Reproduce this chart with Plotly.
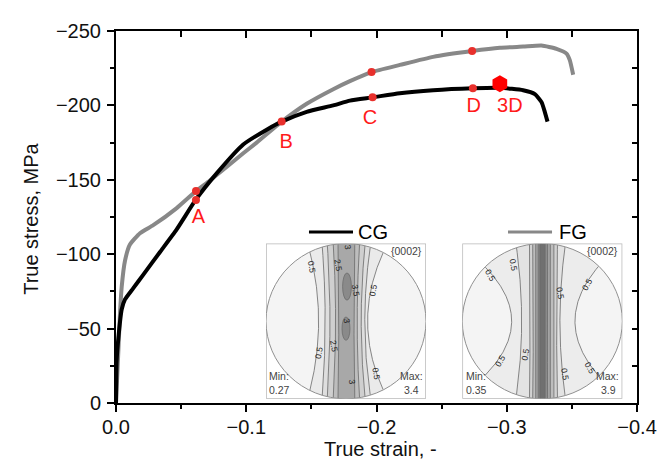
import numpy as np
import plotly.graph_objects as go

FONT = "Liberation Sans, Arial, Helvetica, sans-serif"

# ---------------- data ----------------
cg_strain = [0.0, -0.0005, -0.0018, -0.0044, -0.0069, -0.0133, -0.0210, -0.0338, -0.0466, -0.0614,
             -0.0773, -0.0977, -0.1157, -0.1272, -0.1464, -0.1668, -0.1796, -0.1970, -0.2179,
             -0.2435, -0.2740, -0.2947, -0.3126, -0.3216, -0.3267, -0.3292, -0.3313]
cg_stress = [0.0, -28.2, -43.4, -63.0, -69.6, -77.2, -86.3, -101.5, -116.7, -136.8,
             -154.3, -173.7, -183.7, -189.1, -195.7, -200.0, -203.2, -205.4, -208.2,
             -210.2, -211.5, -211.8, -210.2, -207.6, -202.2, -195.7, -189.1]

fg_strain = [0.0, -0.0008, -0.0018, -0.0031, -0.0044, -0.0069, -0.0107, -0.0184, -0.0286, -0.0466,
             -0.0614, -0.0721, -0.0977, -0.1080, -0.1272, -0.1464, -0.1668, -0.1796, -0.1962,
             -0.2180, -0.2435, -0.2734, -0.2947, -0.3126, -0.3267, -0.3382, -0.3459, -0.3484, -0.3510]
fg_stress = [0.0, -15.2, -34.8, -60.8, -78.3, -95.6, -106.5, -114.1, -119.5, -131.0,
             -142.4, -149.5, -167.8, -175.0, -189.1, -201.1, -210.9, -216.3, -222.4,
             -227.2, -232.6, -236.5, -238.7, -239.5, -240.2, -238.0, -234.8, -230.4, -220.6]

dot_strain = [-0.0614, -0.0614, -0.1272, -0.1962, -0.1970, -0.2734, -0.2740]
dot_stress = [-142.4, -136.5, -189.1, -222.4, -205.4, -236.5, -211.5]

hex_strain = [-0.2947]
hex_stress = [-214.6]

point_labels = ["A", "B", "C", "D", "3D"]
label_strain = [-0.0632, -0.1307, -0.1949, -0.2747, -0.3024]
label_stress = [-124.4, -174.5, -191.0, -198.7, -198.8]

x_range = [0, -0.4]
y_range = [0, -250]

series_names = ["CG", "FG"]
pole_title = "{0002}"
cg_min, cg_max = "0.27", "3.4"
fg_min, fg_max = "0.35", "3.9"

# pole-figure contour geometry (left mid, left edge, right mid, right edge), outer -> inner
cg_levels = [(-0.342, -0.48, 0.27, 0.52), (-0.26, -0.30, 0.235, 0.31), (-0.20, -0.235, 0.19, 0.24),
             (-0.13, -0.16, 0.14, 0.17), (-0.09, -0.10, 0.10, 0.11)]
cg_colors = ["#eaeaea", "#dedede", "#cfcfcf", "#bdbdbd", "#a8a8a8"]
fg_levels = [(-0.383, -1.065, 0.408, 1.0), (-0.258, -0.33, 0.22, 0.29), (-0.154, -0.16, 0.179, 0.19),
             (-0.113, -0.12, 0.138, 0.145), (-0.079, -0.082, 0.096, 0.10), (-0.05, -0.052, 0.063, 0.066),
             (-0.029, -0.03, 0.033, 0.035)]
fg_colors = ["#ececec", "#e3e3e3", "#d2d2d2", "#bdbdbd", "#a5a5a5", "#8c8c8c", "#707070"]

fig = go.Figure()

# ---------------- main curves ----------------
fig.add_trace(go.Scatter(x=fg_strain, y=fg_stress, mode="lines", name="FG",
                         line=dict(color="#888888", width=4, shape="spline", smoothing=0.5),
                         showlegend=False))
fig.add_trace(go.Scatter(x=cg_strain, y=cg_stress, mode="lines", name="CG",
                         line=dict(color="black", width=4, shape="spline", smoothing=0.5),
                         showlegend=False))
fig.add_trace(go.Scatter(x=dot_strain, y=dot_stress, mode="markers",
                         marker=dict(color="#e8302c", size=8), showlegend=False))
fig.add_trace(go.Scatter(x=hex_strain, y=hex_stress, mode="markers",
                         marker=dict(color="#ff0000", size=17, symbol="hexagon"), showlegend=False))
fig.add_trace(go.Scatter(x=label_strain, y=label_stress, mode="text", text=point_labels,
                         textfont=dict(color="#ff1a1a", size=20, family=FONT), showlegend=False))
# dummy trace for mirrored axes
fig.add_trace(go.Scatter(x=[None], y=[None], xaxis="x2", yaxis="y2", showlegend=False))

# ---------------- pole figures ----------------
ys = np.linspace(-1, 1, 401)
half = np.sqrt(np.clip(1 - ys ** 2, 0, None))


def cx(mid, edge):
    return mid + (edge - mid) * ys ** 2


shapes = []
annotations = []


def add_pole(xa, ya, levels, colors, ellipses, minv, maxv, labels):
    shapes.append(dict(type="rect", xref=xa, yref=ya, x0=-1, x1=1, y0=-1, y1=1,
                       line=dict(color="#b8b8b8", width=1.5), fillcolor="white", layer="below"))
    shapes.append(dict(type="circle", xref=xa, yref=ya, x0=-1, x1=1, y0=-1, y1=1,
                       line=dict(width=0), fillcolor="#f4f4f4", layer="below"))
    for (lm, le, rm, re), col in zip(levels, colors):
        xl = np.maximum(cx(lm, le), -half)
        xr = np.minimum(cx(rm, re), half)
        ok = xl < xr
        px = np.concatenate([xl[ok], xr[ok][::-1], xl[ok][:1]])
        py = np.concatenate([ys[ok], ys[ok][::-1], ys[ok][:1]])
        fig.add_trace(go.Scatter(x=px, y=py, fill="toself", fillcolor=col, mode="lines",
                                 line=dict(width=0), xaxis=xa, yaxis=ya, hoverinfo="skip",
                                 showlegend=False))
    for e in ellipses:
        shapes.append(dict(type="circle", xref=xa, yref=ya, x0=e[0] - e[2], x1=e[0] + e[2],
                           y0=e[1] - e[3], y1=e[1] + e[3], fillcolor="#8a8a8a",
                           line=dict(color="#666", width=0.7), layer="above"))
    for (lm, le, rm, re) in levels:
        for m, ed in ((lm, le), (rm, re)):
            xx = cx(m, ed)
            ok = np.abs(xx) <= half
            fig.add_trace(go.Scatter(x=xx[ok], y=ys[ok], mode="lines",
                                     line=dict(color="#6a6a6a", width=0.8), xaxis=xa, yaxis=ya,
                                     hoverinfo="skip", showlegend=False))
    shapes.append(dict(type="circle", xref=xa, yref=ya, x0=-1, x1=1, y0=-1, y1=1,
                       line=dict(color="#909090", width=1), layer="above"))
    small = dict(family=FONT, size=10.5, color="#444")
    annotations.append(dict(xref=xa, yref=ya, x=0.97, y=0.9, text=pole_title, showarrow=False,
                            xanchor="right", yanchor="middle", font=small))
    annotations.append(dict(xref=xa, yref=ya, x=-0.985, y=-0.71, text="Min:", showarrow=False,
                            xanchor="left", yanchor="middle", font=small))
    annotations.append(dict(xref=xa, yref=ya, x=-0.985, y=-0.89, text=minv, showarrow=False,
                            xanchor="left", yanchor="middle", font=small))
    annotations.append(dict(xref=xa, yref=ya, x=0.985, y=-0.71, text="Max:", showarrow=False,
                            xanchor="right", yanchor="middle", font=small))
    annotations.append(dict(xref=xa, yref=ya, x=0.94, y=-0.89, text=maxv, showarrow=False,
                            xanchor="right", yanchor="middle", font=small))
    for (lx, ly, ang, t) in labels:
        annotations.append(dict(xref=xa, yref=ya, x=lx, y=ly, text=t, showarrow=False,
                                textangle=ang, font=dict(family=FONT, size=8.5, color="#222")))


add_pole("x3", "y3", cg_levels, cg_colors,
         [(0.0125, 0.446, 0.055, 0.175), (0.0, -0.096, 0.05, 0.15)], cg_min, cg_max,
         [(-0.425, 0.70, 80, "0.5"), (-0.34, -0.41, -80, "0.5"), (0.34, 0.40, -80, "0.5"),
          (0.38, -0.68, 80, "0.5"), (0.02, 0.95, 80, "3"), (-0.1, 0.72, 80, "2.5"),
          (0.12, 0.40, 80, "3.5"), (-0.15, -0.32, 80, "2.5"), (0.08, -0.78, 80, "3"),
          (0.01, 0.0, 80, "3")])
add_pole("x4", "y4", fg_levels, fg_colors, [], fg_min, fg_max,
         [(-0.363, 0.72, 80, "0.5"), (-0.654, 0.59, 60, "0.5"), (0.554, 0.47, -60, "0.5"),
          (0.221, 0.36, 80, "0.5"), (-0.529, -0.51, -60, "0.5"), (-0.217, -0.43, -80, "0.5"),
          (0.283, -0.68, 80, "0.5"), (0.596, -0.60, 60, "0.5")])

# legend (inside the plot)
shapes.append(dict(type="line", xref="paper", yref="paper", x0=0.3704, x1=0.4549, y0=0.46, y1=0.46,
                   line=dict(color="black", width=3)))
shapes.append(dict(type="line", xref="paper", yref="paper", x0=0.7524, x1=0.8369, y0=0.46, y1=0.46,
                   line=dict(color="#888888", width=3)))
annotations.append(dict(xref="paper", yref="paper", x=0.4607, y=0.46, text=series_names[0],
                        showarrow=False, xanchor="left", yanchor="middle",
                        font=dict(family=FONT, size=20, color="black")))
annotations.append(dict(xref="paper", yref="paper", x=0.8464, y=0.46, text=series_names[1],
                        showarrow=False, xanchor="left", yanchor="middle",
                        font=dict(family=FONT, size=20, color="black")))

# axis titles
annotations.append(dict(xref="paper", yref="paper", x=0.5086, y=-0.123, text="True strain, -",
                        showarrow=False, xanchor="center", yanchor="middle",
                        font=dict(family=FONT, size=20, color="#111")))
annotations.append(dict(xref="paper", yref="paper", x=-0.162, y=0.494, text="True stress, MPa",
                        showarrow=False, xanchor="center", yanchor="middle", textangle=-90,
                        font=dict(family=FONT, size=20, color="#111")))

tickfont = dict(family=FONT, size=20, color="#111")
fig.update_layout(
    width=662, height=460,
    margin=dict(l=108, r=33, t=12, b=65),
    paper_bgcolor="white", plot_bgcolor="white",
    showlegend=False,
    font=dict(family=FONT),
    xaxis=dict(range=x_range, dtick=0.1, tick0=0, tickformat=".1f", showgrid=False, zeroline=False,
               showline=True, linecolor="black", linewidth=2, ticks="outside", ticklen=7,
               tickwidth=2, tickcolor="black", tickfont=tickfont, ticklabelstandoff=-2,
               minor=dict(dtick=0.05, ticks="outside", ticklen=4, tickwidth=1.5, tickcolor="black",
                          showgrid=False)),
    yaxis=dict(range=y_range, dtick=50, tick0=0, showgrid=False, zeroline=False,
               showline=True, linecolor="black", linewidth=2, ticks="outside", ticklen=7,
               tickwidth=2, tickcolor="black", tickfont=tickfont, ticklabelstandoff=2,
               minor=dict(dtick=25, ticks="outside", ticklen=4, tickwidth=1.5, tickcolor="black",
                          showgrid=False)),
    xaxis2=dict(overlaying="x", side="top", range=x_range, dtick=0.1, tick0=0, showgrid=False,
                zeroline=False, showline=True, linecolor="black", linewidth=2, ticks="inside",
                ticklen=7, tickwidth=1.5, tickcolor="black", showticklabels=False,
                minor=dict(dtick=0.05, ticks="inside", ticklen=6, tickwidth=1.5, tickcolor="black",
                           showgrid=False)),
    yaxis2=dict(overlaying="y", side="right", range=y_range, dtick=50, tick0=0, showgrid=False,
                zeroline=False, showline=True, linecolor="black", linewidth=2, ticks="inside",
                ticklen=5, tickwidth=1.5, tickcolor="black", showticklabels=False,
                minor=dict(dtick=25, ticks="inside", ticklen=5, tickwidth=1.5, tickcolor="black",
                           showgrid=False)),
    xaxis3=dict(domain=[0.2879, 0.595], range=[-1, 1], visible=False, fixedrange=True),
    yaxis3=dict(domain=[0.0112, 0.4287], range=[-1, 1], visible=False, fixedrange=True),
    xaxis4=dict(domain=[0.6647, 0.9718], range=[-1, 1], visible=False, fixedrange=True),
    yaxis4=dict(domain=[0.0112, 0.4287], range=[-1, 1], visible=False, fixedrange=True),
    shapes=shapes,
    annotations=annotations,
)

fig.write_html("out.html")
